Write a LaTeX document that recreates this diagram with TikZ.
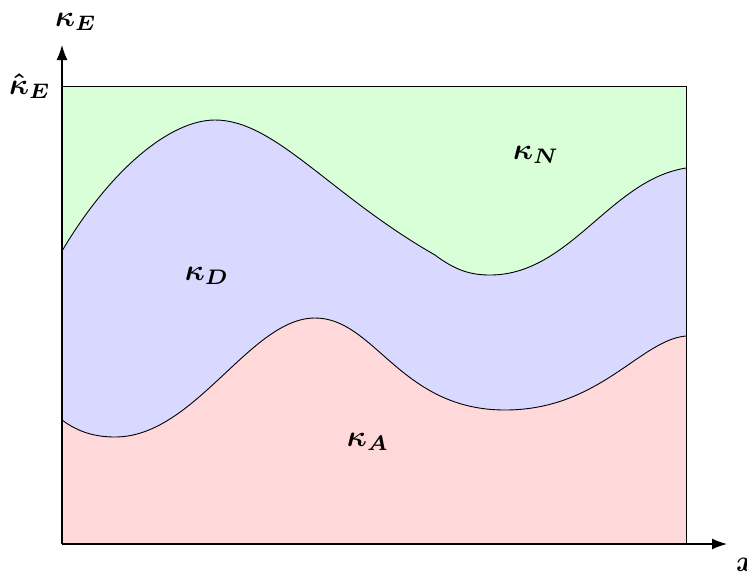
\documentclass[tikz,border=0pt]{standalone}
\usetikzlibrary{arrows.meta}
\definecolor{gfill}{RGB}{217,255,217}
\definecolor{bfill}{RGB}{217,217,255}
\definecolor{rfill}{RGB}{255,217,217}
\begin{document}
\begin{tikzpicture}[x=1pt,y=-1pt,
  lab/.style={font=\boldmath,scale=3,transform shape,inner sep=0pt},
  curve/.style={line width=0.9pt},
  axis/.style={line width=1.3pt,-{Latex[length=15pt,width=11pt]}}]
\useasboundingbox (0,0) rectangle (747,574);
\def\upper{(62,251) .. controls (110,170) and (170,120) .. (215,120) .. controls (275,120) and (330,195) .. (435,255) .. controls (455,270) and (470,275) .. (490,275) .. controls (570,275) and (610,180) .. (686,168)}
\def\lower{(62,420) .. controls (78,432) and (95,437) .. (115,437) .. controls (195,437) and (250,318) .. (315,318) .. controls (375,318) and (400,410) .. (505,410) .. controls (600,410) and (640,340) .. (686,336)}
\fill[gfill] (62,86) rectangle (686,544);
\fill[bfill] \upper -- (686,544) -- (62,544) -- cycle;
\fill[rfill] \lower -- (686,544) -- (62,544) -- cycle;
\draw[curve] \upper;
\draw[curve] \lower;
\draw[line width=0.8pt] (62,86) -- (686,86) -- (686,544);
\coordinate (O) at (62,544);
\coordinate (xe) at (727,544);
\coordinate (ye) at (62,45);
\draw[axis] (O) -- (xe);
\draw[axis] (O) -- (ye);
\node[lab] (kE) at (76,22) {$\kappa_E$};
\node[lab] (kEh) at (30,86) {$\hat{\kappa}_E$};
\node[lab] (kD) at (207,276) {$\kappa_D$};
\node[lab] (kA) at (368,442) {$\kappa_A$};
\node[lab] (kN) at (536,155) {$\kappa_N$};
\node[lab] (xl) at (746,565) {$x$};
\end{tikzpicture}
\end{document}
